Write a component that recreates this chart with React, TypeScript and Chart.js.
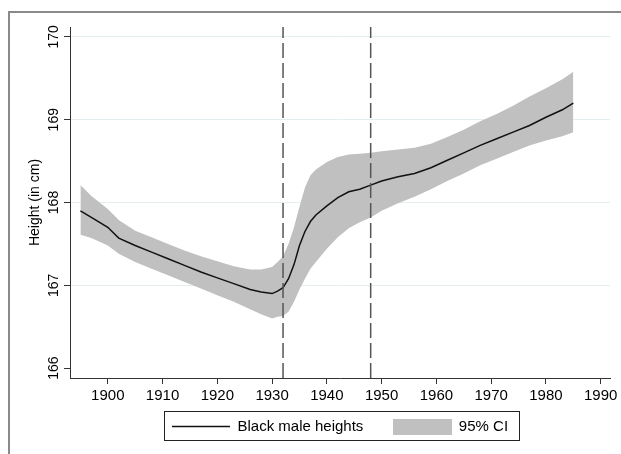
import React, { useEffect, useRef } from "react";
import { Chart, registerables } from "chart.js";

Chart.register(...registerables);

const years = [1895, 1897, 1900, 1902, 1905, 1908, 1911, 1914, 1917, 1920, 1923, 1926, 1928, 1930, 1931, 1932, 1933, 1934, 1935, 1936, 1937, 1938, 1940, 1942, 1944, 1946, 1948, 1950, 1953, 1956, 1959, 1962, 1965, 1968, 1971, 1974, 1977, 1980, 1983, 1985];

const heights = [167.90, 167.82, 167.70, 167.57, 167.48, 167.40, 167.32, 167.24, 167.16, 167.09, 167.02, 166.95, 166.92, 166.90, 166.93, 166.97, 167.08, 167.25, 167.48, 167.65, 167.77, 167.85, 167.96, 168.06, 168.13, 168.16, 168.21, 168.26, 168.31, 168.35, 168.42, 168.51, 168.60, 168.69, 168.77, 168.85, 168.93, 169.03, 169.12, 169.20];

const ciUpper = [168.21, 168.08, 167.92, 167.79, 167.66, 167.58, 167.50, 167.42, 167.35, 167.29, 167.23, 167.19, 167.19, 167.22, 167.28, 167.35, 167.50, 167.70, 167.95, 168.18, 168.33, 168.40, 168.49, 168.55, 168.58, 168.59, 168.60, 168.62, 168.64, 168.66, 168.71, 168.79, 168.88, 168.98, 169.07, 169.17, 169.28, 169.38, 169.49, 169.58];

const ciLower = [167.61, 167.57, 167.48, 167.38, 167.28, 167.20, 167.12, 167.04, 166.96, 166.88, 166.80, 166.71, 166.65, 166.60, 166.62, 166.63, 166.68, 166.80, 166.95, 167.08, 167.20, 167.28, 167.44, 167.58, 167.69, 167.76, 167.82, 167.90, 167.99, 168.07, 168.16, 168.26, 168.35, 168.45, 168.53, 168.61, 168.69, 168.75, 168.80, 168.85];

const xTicks = [1900, 1910, 1920, 1930, 1940, 1950, 1960, 1970, 1980, 1990];
const yTicks = [166, 167, 168, 169, 170];
const breakYears = [1932, 1948];

const X_MIN = 1893.1;
const X_MAX = 1991.7;
const Y_MIN = 165.88;
const Y_MAX = 170.12;

const FONT = "'Liberation Sans', Arial, Helvetica, sans-serif";
const BAND = "#c0c0c0";
const LEGEND_PAD = 30;

const legendBoxPlugin = {
  id: "legendBox",
  afterLayout(chart: any) {
    const lg = chart.legend;
    if (!lg) return;
    // place legend row so that its items sit at y ≈ 426
    const top = 426 - 7 - LEGEND_PAD;
    lg.top = top;
    lg.bottom = 448;
    lg.height = lg.bottom - top;
  },
  afterDraw(chart: any) {
    const lg = chart.legend;
    if (!lg || !lg.legendHitBoxes || !lg.legendHitBoxes.length) return;
    const hb = lg.legendHitBoxes;
    const first = hb[0];
    const last = hb[hb.length - 1];
    const left = first.left - 8;
    const right = last.left + last.width + 11;
    const ctx = chart.ctx;
    ctx.save();
    ctx.strokeStyle = "#222";
    ctx.lineWidth = 1;
    ctx.strokeRect(Math.round(left) + 0.5, 411.5, Math.round(right - left), 29);
    ctx.restore();
  },
};

export default function App() {
  const ref = useRef<HTMLCanvasElement | null>(null);

  useEffect(() => {
    if (!ref.current) return;
    const swatch = document.createElement("canvas");
    swatch.width = 59;
    swatch.height = 16;
    const sctx = swatch.getContext("2d");
    if (sctx) {
      sctx.fillStyle = BAND;
      sctx.fillRect(0, 0, 59, 16);
    }

    const upper = years.map((x, i) => ({ x, y: ciUpper[i] }));
    const lower = years.map((x, i) => ({ x, y: ciLower[i] }));
    const line = years.map((x, i) => ({ x, y: heights[i] }));

    const vlineSets = breakYears.map((yr) => ({
      label: "break" + yr,
      data: [
        { x: yr, y: Y_MIN },
        { x: yr, y: Y_MAX },
      ],
      borderColor: "#555",
      borderWidth: 1.5,
      borderDash: [15, 5],
      pointRadius: 0,
      fill: false,
      order: 0,
    }));

    const chart = new Chart(ref.current, {
      type: "line",
      data: {
        datasets: [
          {
            label: "95% CI",
            data: upper,
            borderWidth: 0,
            borderColor: "rgba(0,0,0,0)",
            backgroundColor: BAND,
            pointRadius: 0,
            fill: "+1",
            order: 3,
          },
          {
            label: "lower",
            data: lower,
            borderWidth: 0,
            borderColor: "rgba(0,0,0,0)",
            pointRadius: 0,
            fill: false,
            order: 3,
          },
          {
            label: "Black male heights",
            data: line,
            borderColor: "#111",
            borderWidth: 1.5,
            pointRadius: 0,
            fill: false,
            order: 1,
          },
          ...vlineSets,
        ] as any,
      },
      options: {
        animation: false,
        responsive: false,
        events: [],
        layout: { padding: { top: 27, right: 11, bottom: 11, left: 0 } },
        plugins: {
          tooltip: { enabled: false },
          legend: {
            display: true,
            position: "bottom",
            fullSize: false,
            maxHeight: 38,
            labels: {
              usePointStyle: true,
              pointStyleWidth: 58,
              padding: LEGEND_PAD,
              color: "#000",
              font: { family: FONT, size: 15 },
              generateLabels: () => [
                {
                  text: "Black male heights",
                  pointStyle: "line",
                  strokeStyle: "#111",
                  fillStyle: "#111",
                  lineWidth: 1.5,
                  hidden: false,
                  datasetIndex: 2,
                } as any,
                {
                  text: "95% CI",
                  pointStyle: swatch,
                  strokeStyle: "rgba(0,0,0,0)",
                  fillStyle: BAND,
                  lineWidth: 0,
                  hidden: false,
                  datasetIndex: 0,
                } as any,
              ],
            },
          },
        },
        scales: {
          x: {
            type: "linear",
            min: X_MIN,
            max: X_MAX,
            afterBuildTicks: (s: any) => {
              s.ticks = xTicks.map((v) => ({ value: v }));
            },
            afterFit: (s: any) => {
              s.height = 27;
            },
            border: { display: true, color: "#333", width: 1 },
            grid: {
              display: true,
              drawOnChartArea: false,
              drawTicks: true,
              tickLength: 6,
              tickColor: "#333",
            },
            ticks: {
              color: "#000",
              font: { family: FONT, size: 15 },
              padding: 3,
              maxRotation: 0,
              minRotation: 0,
              autoSkip: false,
              callback: (v: any) => String(v),
            },
          },
          y: {
            type: "linear",
            min: Y_MIN,
            max: Y_MAX,
            afterBuildTicks: (s: any) => {
              s.ticks = yTicks.map((v) => ({ value: v }));
            },
            afterFit: (s: any) => {
              s.width = 70;
            },
            border: { display: true, color: "#333", width: 1 },
            grid: {
              display: true,
              drawOnChartArea: true,
              drawTicks: true,
              tickLength: 6,
              tickColor: "#333",
              lineWidth: 1,
              color: (c: any) => (c.tick && c.tick.value === 166 ? "rgba(0,0,0,0)" : "#e4eef0"),
            },
            ticks: {
              color: "#000",
              font: { family: FONT, size: 14 },
              padding: -2,
              minRotation: 90,
              maxRotation: 90,
              crossAlign: "center",
              autoSkip: false,
              callback: (v: any) => String(v),
            },
            title: {
              display: true,
              text: "Height (in cm)",
              color: "#000",
              font: { family: FONT, size: 14 },
              padding: { top: 27, bottom: 0 },
            },
          },
        },
      } as any,
      plugins: [legendBoxPlugin],
    });
    return () => chart.destroy();
  }, []);

  return (
    <div style={{ position: "absolute", left: 0, top: 0, width: 621, height: 454, background: "#fff" }}>
      <div
        style={{
          position: "absolute",
          left: 8,
          top: 11,
          right: 0,
          bottom: 0,
          borderTop: "2px solid #8a8a8a",
          borderLeft: "2px solid #8a8a8a",
        }}
      />
      <canvas ref={ref} width={621} height={454} style={{ position: "absolute", left: 0, top: 0 }} />
    </div>
  );
}
